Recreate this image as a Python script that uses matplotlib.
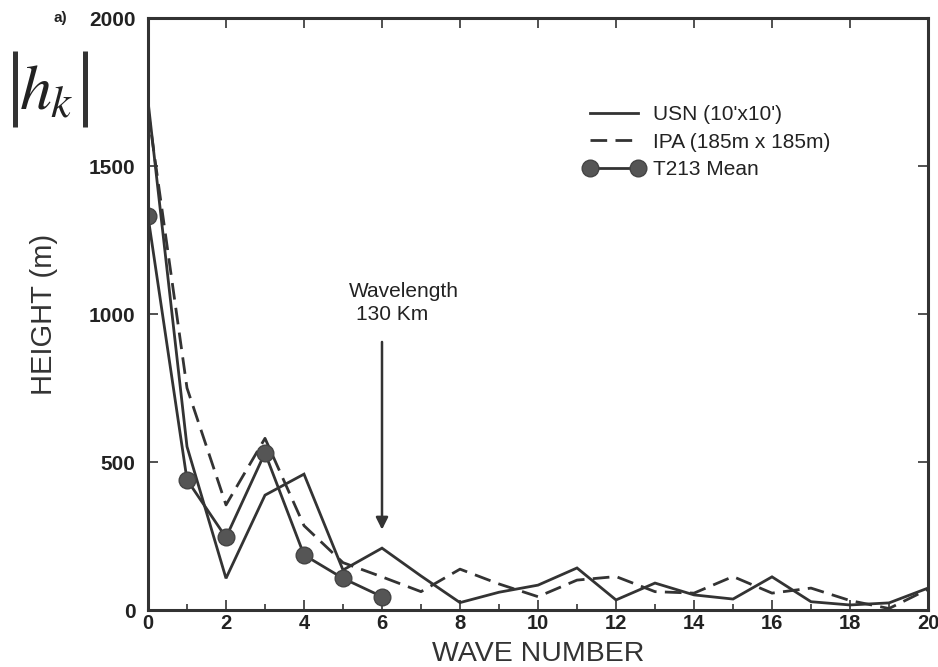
import matplotlib
matplotlib.use('Agg')
import matplotlib.pyplot as plt
from matplotlib.lines import Line2D
from matplotlib.ticker import MultipleLocator

plt.rcParams['font.family'] = ['Liberation Sans', 'DejaVu Sans']
plt.rcParams['mathtext.fontset'] = 'stix'

# wave numbers 0..20
wave = list(range(21))
usn = [1720, 552, 107, 388, 459, 135, 209, 115, 25, 60, 84,
       142, 34, 91, 51, 37, 112, 28, 17, 24, 74]
ipa = [1690, 750, 355, 580, 285, 160, 112, 62, 138, 88, 45,
       101, 113, 62, 57, 113, 57, 74, 32, 5, 70]
t213_wave = [0, 1, 2, 3, 4, 5, 6]
t213 = [1330, 440, 245, 531, 186, 107, 45]

INK = '#333333'
OUTPUT = 'out.png'
W, H = 938, 667

fig = plt.figure(figsize=(W / 100, H / 100), dpi=100)
ax = fig.add_axes([148 / W, 57 / H, 780 / W, 592 / H])

ax.plot(wave, usn, color=INK, lw=2.0, solid_joinstyle='miter')
ax.plot(wave, ipa, color=INK, lw=2.0, dashes=(6, 3))
ax.plot(t213_wave, t213, color=INK, lw=2.0, marker='o', ms=12,
        markerfacecolor='#555555', markeredgecolor='#444444')

ax.set_xlim(0, 20)
ax.set_ylim(0, 2000)
ax.xaxis.set_major_locator(MultipleLocator(2))
ax.xaxis.set_minor_locator(MultipleLocator(1))
ax.yaxis.set_major_locator(MultipleLocator(500))
ax.tick_params(which='both', direction='in', top=True, right=True,
               color=INK, width=1.2)
ax.tick_params(which='major', length=7)
ax.tick_params(axis='y', which='major', labelsize=15, pad=9)
ax.tick_params(axis='x', which='major', labelsize=14.5, pad=3)
ax.tick_params(which='minor', length=4, top=False)
for lab in ax.get_xticklabels() + ax.get_yticklabels():
    lab.set_fontweight('bold')
    lab.set_color('#222222')
for sp in ax.spines.values():
    sp.set_linewidth(2.2)
    sp.set_color(INK)

fig.text(538 / W, 0, 'WAVE NUMBER', fontsize=20.5,
         color='#333333', ha='center', va='bottom')
ax.set_ylabel('HEIGHT (m)', fontsize=21, color='#333333', labelpad=22)
fig.text(60 / W, 1 - 18 / H, 'a)', fontsize=11, fontweight='bold',
         ha='center', va='center', color='#222222')

# |h_k| symbol in the top-left corner
fig.text(46 / W, 1 - 92 / H, r'$h_{k}$', fontsize=46,
         ha='center', va='center', color='#222222')
for bx in (15, 85):
    fig.add_artist(Line2D([bx / W, bx / W], [1 - 51 / H, 1 - 127 / H],
                          transform=fig.transFigure, color='#333333',
                          lw=3.6, solid_capstyle='butt'))

# arrow marking the 130 km wavelength
ax.annotate('', xy=(6, 262), xytext=(6, 915),
            arrowprops=dict(arrowstyle='-|>', lw=1.8, color=INK,
                            mutation_scale=18))
ax.text(6.55, 1075, 'Wavelength', fontsize=15, ha='center', va='center',
        color='#222222')
ax.text(6.25, 1000, '130 Km', fontsize=15, ha='center', va='center',
        color='#222222')

handles = [
    Line2D([], [], color=INK, lw=2.0),
    Line2D([], [], color=INK, lw=2.0, dashes=(6, 3)),
    Line2D([], [], color=INK, lw=2.0, marker='o', ms=12,
           markerfacecolor='#555555', markeredgecolor='#444444'),
]
labels = ["USN (10'x10')", 'IPA (185m x 185m)', 'T213 Mean']
ax.legend(handles, labels, loc='upper left', bbox_to_anchor=(0.535, 0.885),
          frameon=False, fontsize=15, handlelength=2.9, handletextpad=0.4,
          labelspacing=0.42, numpoints=2, labelcolor='#222222')

fig.savefig(OUTPUT, dpi=100)
print(f'Saved to {OUTPUT}')
